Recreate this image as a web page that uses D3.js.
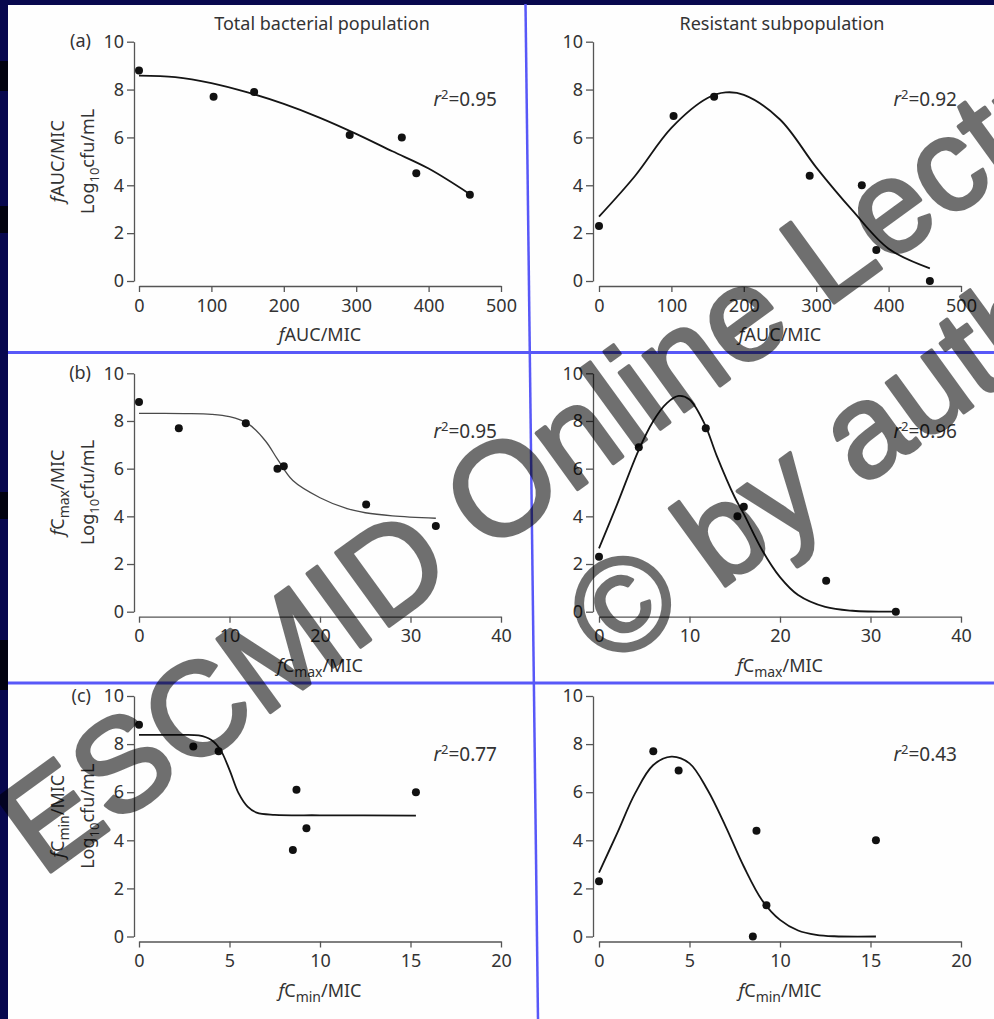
<!DOCTYPE html>
<html>
<head>
<meta charset="utf-8">
<script src="https://cdn.jsdelivr.net/npm/d3@7"></script>
<style>
  html, body { margin: 0; padding: 0; background: #08084e; }
  svg { display: block; }
</style>
</head>
<body>
<svg id="chart" width="994" height="1019"></svg>
<script>
// ---- tick values ----
const logTicks  = [0, 2, 4, 6, 8, 10];
const aucTicks  = [0, 100, 200, 300, 400, 500];
const cmaxTicks = [0, 10, 20, 30, 40];
const cminTicks = [0, 5, 10, 15, 20];

// ---- seven dosing regimens (untreated control first) ----
const aucMic       = [0, 103, 159, 291, 363, 383, 457];
const cmaxMic      = [0, 4.4, 11.8, 16.0, 15.3, 25.1, 32.8];
const cminMic      = [0, 4.4, 3.0, 8.7, 15.3, 9.25, 8.5];
const totalLog     = [8.8, 7.7, 7.9, 6.1, 6.0, 4.5, 3.6];
const resistantLog = [2.3, 6.9, 7.7, 4.4, 4.0, 1.3, 0.0];

// ---- fitted model curves ----
const fitAucTotalX  = [0, 50, 100, 150, 200, 250, 300, 350, 400, 457];
const fitAucTotalY  = [8.58, 8.52, 8.27, 7.88, 7.40, 6.82, 6.15, 5.42, 4.70, 3.63];
const fitAucResX    = [0, 50, 100, 150, 175, 200, 250, 300, 350, 400, 457];
const fitAucResY    = [2.69, 4.40, 6.40, 7.65, 7.88, 7.78, 6.75, 4.75, 2.95, 1.35, 0.53];
const fitCmaxTotalX = [0, 5, 8, 10, 12, 14, 15.3, 17, 20, 23, 25, 28, 32.8];
const fitCmaxTotalY = [8.32, 8.31, 8.28, 8.18, 7.90, 7.15, 6.40, 5.50, 4.78, 4.32, 4.15, 4.02, 3.92];
const fitCmaxResX   = [0, 2, 4.35, 6, 7.5, 8.8, 10, 11.7, 13, 15, 16, 18, 20, 22, 25, 28, 32.8];
const fitCmaxResY   = [2.66, 4.5, 6.75, 8.0, 8.75, 9.05, 8.9, 7.85, 6.55, 4.8, 4.1, 2.6, 1.45, 0.7, 0.2, 0.04, 0];
const fitCminTotalX = [0, 2, 3.3, 4, 4.5, 5, 5.5, 6, 6.5, 7.5, 10, 15.3];
const fitCminTotalY = [8.38, 8.38, 8.36, 8.17, 7.76, 6.93, 5.96, 5.40, 5.15, 5.06, 5.04, 5.03];
const fitCminResX   = [0, 1, 2, 3, 4, 5, 6, 7, 8, 9, 10, 11, 12, 13, 15.3];
const fitCminResY   = [2.66, 4.29, 5.96, 7.13, 7.48, 7.2, 6.09, 4.57, 2.91, 1.52, 0.69, 0.25, 0.07, 0.01, 0];

const r2Total     = ["0.95", "0.95", "0.77"];
const r2Resistant = ["0.92", "0.96", "0.43"];
const columnTitles = ["Total bacterial population", "Resistant subpopulation"];
const rowTags = ["(a)", "(b)", "(c)"];

// ---- layout ----
const W = 994, H = 1019;
const FONT = "'Noto Sans', 'Open Sans', sans-serif";
const TEXT = "#333";
const AXIS = "#555";

const cols = [
  { axisX: 134, x0: 139, x1: 501 },
  { axisX: 593, x0: 599, x1: 961 }
];
const rows = [
  { y10: 41.7,  y0: 281.0 },
  { y10: 373.3, y0: 611.7 },
  { y10: 696.0, y0: 936.5 }
];

// x-axis description per row: domain, ticks, label pieces (italic f, C, subscript, rest)
const xDefs = [
  { max: 500, ticks: aucTicks,  x: aucMic,  pre: "AUC/MIC", sub: null },
  { max: 40,  ticks: cmaxTicks, x: cmaxMic, pre: "C", sub: "max" },
  { max: 20,  ticks: cminTicks, x: cminMic, pre: "C", sub: "min" }
];

const fits = [
  [[fitAucTotalX, fitAucTotalY],   [fitAucResX, fitAucResY]],
  [[fitCmaxTotalX, fitCmaxTotalY], [fitCmaxResX, fitCmaxResY]],
  [[fitCminTotalX, fitCminTotalY], [fitCminResX, fitCminResY]]
];
const r2s = [[r2Total[0], r2Resistant[0]], [r2Total[1], r2Resistant[1]], [r2Total[2], r2Resistant[2]]];

const svg = d3.select("#chart");

// ---- frame: dark slide border, white page, blue panel rules ----
svg.append("rect").attr("width", W).attr("height", H).attr("fill", "#08084e");
[[61, 91], [206, 233], [492, 519], [640, 690]].forEach(([a, b]) => {
  svg.append("rect").attr("x", 0).attr("y", a).attr("width", 8).attr("height", b - a).attr("fill", "#020210");
});
svg.append("rect").attr("x", 8).attr("y", 5).attr("width", W - 8).attr("height", H - 5).attr("fill", "#fefefe");

const rule = "#5858f8";
svg.append("line").attr("x1", 8).attr("x2", W).attr("y1", 352.5).attr("y2", 352.5)
  .attr("stroke", rule).attr("stroke-width", 3);
svg.append("line").attr("x1", 8).attr("x2", W).attr("y1", 683).attr("y2", 683)
  .attr("stroke", rule).attr("stroke-width", 3);
svg.append("line").attr("x1", 525.5).attr("x2", 538).attr("y1", 4).attr("y2", H)
  .attr("stroke", rule).attr("stroke-width", 2.5);

// x label with italic f and optional subscript
function xLabel(sel, def) {
  sel.append("tspan").attr("font-style", "italic").text("f");
  if (def.sub) {
    sel.append("tspan").text(def.pre);
    sel.append("tspan").attr("font-size", 14).attr("dy", 5).text(def.sub);
    sel.append("tspan").attr("dy", -5).text("/MIC");
  } else {
    sel.append("tspan").text(def.pre);
  }
}

rows.forEach((row, ri) => {
  const def = xDefs[ri];
  const y = d3.scaleLinear().domain([0, 10]).range([row.y0, row.y10]);

  cols.forEach((col, ci) => {
    const x = d3.scaleLinear().domain([0, def.max]).range([col.x0, col.x1]);
    const g = svg.append("g");

    // y axis
    const ya = g.append("g").attr("transform", `translate(${col.axisX},0)`)
      .call(d3.axisLeft(y).tickValues(logTicks).tickSize(7).tickSizeOuter(0).tickPadding(3));
    // x axis, set slightly below the zero line
    const xa = g.append("g").attr("transform", `translate(0,${row.y0 + 5})`)
      .call(d3.axisBottom(x).tickValues(def.ticks).tickSize(6).tickSizeOuter(0).tickPadding(7));
    [ya, xa].forEach(a => {
      a.select(".domain").attr("stroke", AXIS).attr("stroke-width", 1.3);
      a.selectAll(".tick line").attr("stroke", AXIS).attr("stroke-width", 1.3);
      a.selectAll(".tick text").attr("fill", TEXT).attr("font-size", 18).attr("font-family", FONT);
    });

    // x-axis title
    const xt = g.append("text")
      .attr("x", (col.x0 + col.x1) / 2).attr("y", row.y0 + 60)
      .attr("text-anchor", "middle").attr("font-size", 18)
      .attr("font-family", FONT).attr("fill", TEXT);
    xLabel(xt, def);

    // fitted curve
    const [fx, fy] = fits[ri][ci];
    const line = d3.line()
      .x((d, i) => x(fx[i]))
      .y((d, i) => y(fy[i]))
      .curve(d3.curveCatmullRom.alpha(0.5));
    const thin = (ri === 1 && ci === 0);
    g.append("path").datum(fx).attr("d", line)
      .attr("fill", "none")
      .attr("stroke", thin ? "#4a4a4a" : "#151515")
      .attr("stroke-width", thin ? 1.3 : 1.8);

    // observations
    const vals = ci === 0 ? totalLog : resistantLog;
    g.selectAll("circle.obs").data(def.x).join("circle")
      .attr("class", "obs")
      .attr("cx", d => x(d))
      .attr("cy", (d, i) => y(vals[i]))
      .attr("r", 4)
      .attr("fill", "#111");

    // r² annotation
    const rt = g.append("text")
      .attr("x", col.x1 - 4).attr("y", y(7.3))
      .attr("text-anchor", "end").attr("font-size", 19)
      .attr("font-family", FONT).attr("fill", TEXT);
    rt.append("tspan").attr("font-style", "italic").text("r");
    rt.append("tspan").attr("font-size", 13).attr("dy", -7).text("2");
    rt.append("tspan").attr("dy", 7).text("=" + r2s[ri][ci]);

    if (ci === 0) {
      // panel tag
      g.append("text").attr("x", 91).attr("y", y(10)).attr("dy", "0.32em")
        .attr("text-anchor", "end").attr("font-size", 18)
        .attr("font-family", FONT).attr("fill", TEXT).text(rowTags[ri]);

      // two-line y-axis title
      const yc = (row.y0 + row.y10) / 2;
      const t1 = g.append("text")
        .attr("transform", `translate(64,${yc}) rotate(-90)`)
        .attr("text-anchor", "middle").attr("font-size", 18)
        .attr("font-family", FONT).attr("fill", TEXT);
      xLabel(t1, def);
      const t2 = g.append("text")
        .attr("transform", `translate(94,${yc}) rotate(-90)`)
        .attr("text-anchor", "middle").attr("font-size", 18)
        .attr("font-family", FONT).attr("fill", TEXT);
      t2.append("tspan").text("Log");
      t2.append("tspan").attr("font-size", 13).attr("dy", 5).text("10");
      t2.append("tspan").attr("dy", -5).text("cfu/mL");
    }
  });
});

// column titles
cols.forEach((col, ci) => {
  svg.append("text")
    .attr("x", (col.x0 + col.x1) / 2 + 2).attr("y", 30)
    .attr("text-anchor", "middle").attr("font-size", 18)
    .attr("font-family", FONT).attr("fill", TEXT).text(columnTitles[ci]);
});

// ---- copyright overlay ----
const wm = svg.append("g").attr("opacity", 0.56)
  .attr("transform", "translate(790,335) rotate(-36)");
const wmStyle = s => s.attr("text-anchor", "middle")
  .attr("font-family", "'Liberation Sans', Arial, sans-serif")
  .attr("font-size", 132).attr("fill", "#000")
  .attr("stroke", "#000").attr("stroke-width", 3.5).attr("stroke-linejoin", "round");
wm.append("text").attr("x", 0).attr("y", 0).call(wmStyle).text("ESCMID Online Lecture Library");
wm.append("text").attr("x", 0).attr("y", 165).call(wmStyle).text("\u00A9 by author");
</script>
</body>
</html>
